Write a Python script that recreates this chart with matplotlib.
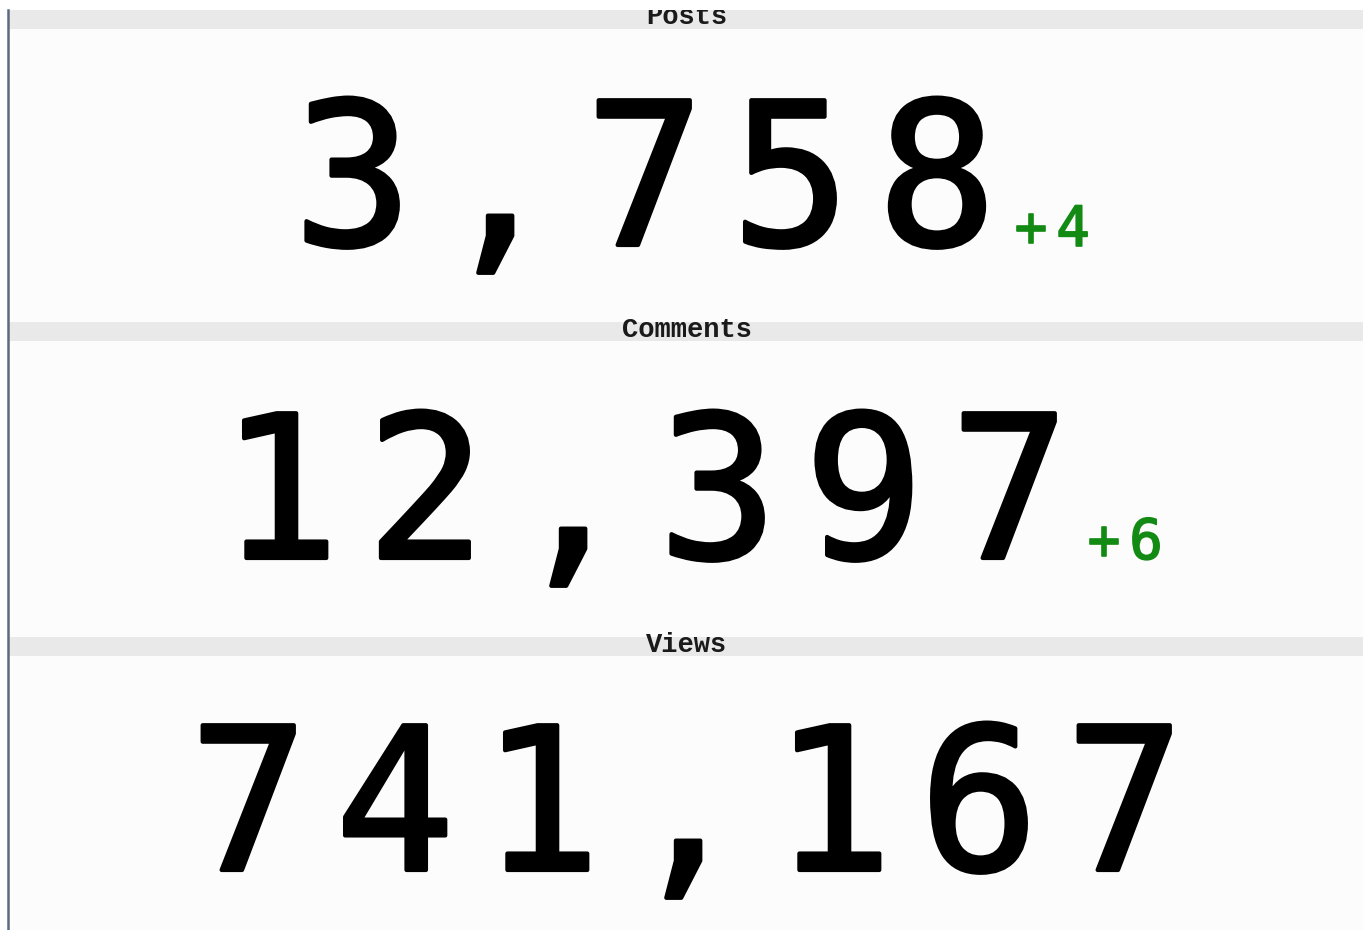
import matplotlib.pyplot as plt
import matplotlib.patheffects as pe
from matplotlib.patches import Rectangle

# Counters shown on the dashboard
labels = ["Posts", "Comments", "Views"]
values = [3758, 12397, 741167]
deltas = [4, 6, None]

W, H = 1368, 930
band_tops = [10, 322, 637]
band_h = 19
right_edge = 1363
center_x = 687
baselines = [245, 558, 870]

big_size = 143   # pt
small_size = 40
adv = 146        # px per big character cell
dadv = 42        # px per delta character cell

fig = plt.figure(figsize=(W / 100, H / 100), dpi=100)
ax = fig.add_axes([0, 0, 1, 1])
ax.set_xlim(0, W)
ax.set_ylim(H, 0)
ax.axis("off")

thick = [pe.withStroke(linewidth=3, foreground="black",
                       joinstyle="round", capstyle="round")]
thick_g = [pe.withStroke(linewidth=1.2, foreground="#138a13",
                         joinstyle="round", capstyle="round")]

for i, lab in enumerate(labels):
    top = band_tops[i]
    bottom = band_tops[i + 1] if i + 1 < len(band_tops) else H
    # panel body
    ax.add_patch(Rectangle((8, top), right_edge - 8, bottom - top,
                           facecolor="#fcfcfc", edgecolor="none", zorder=0))
    # header band
    ax.add_patch(Rectangle((8, top), right_edge - 8, band_h,
                           facecolor="#e9e9e9", edgecolor="none", zorder=1))
    ax.text(center_x, top + 14.5, lab, ha="center", va="baseline",
            fontsize=19.5, family="Liberation Mono", fontweight="bold",
            color="#1a1a1a", zorder=2)

    num = f"{values[i]:,}"
    d = f"+{deltas[i]}" if deltas[i] is not None else ""
    width = len(num) * adv + len(d) * dadv
    left = center_x - width / 2
    for k, ch in enumerate(num):
        ax.text(left + (k + 0.5) * adv, baselines[i], ch, ha="center",
                va="baseline", fontsize=big_size, family="DejaVu Sans Mono",
                color="black", zorder=2, path_effects=thick)
    dl = left + len(num) * adv
    for k, ch in enumerate(d):
        ax.text(dl + (k + 0.5) * dadv, baselines[i] + 1, ch, ha="center",
                va="baseline", fontsize=small_size, family="DejaVu Sans Mono",
                color="#138a13", zorder=2, path_effects=thick_g)

# white strip on top hides the upper part of the first header
ax.add_patch(Rectangle((0, 0), W, band_tops[0], facecolor="white",
                       edgecolor="none", zorder=5))
# left rule
ax.plot([8, 8], [band_tops[0], H], color="#5b6a80", lw=1.8, zorder=6)

fig.savefig("out.png", dpi=100, facecolor="white")
